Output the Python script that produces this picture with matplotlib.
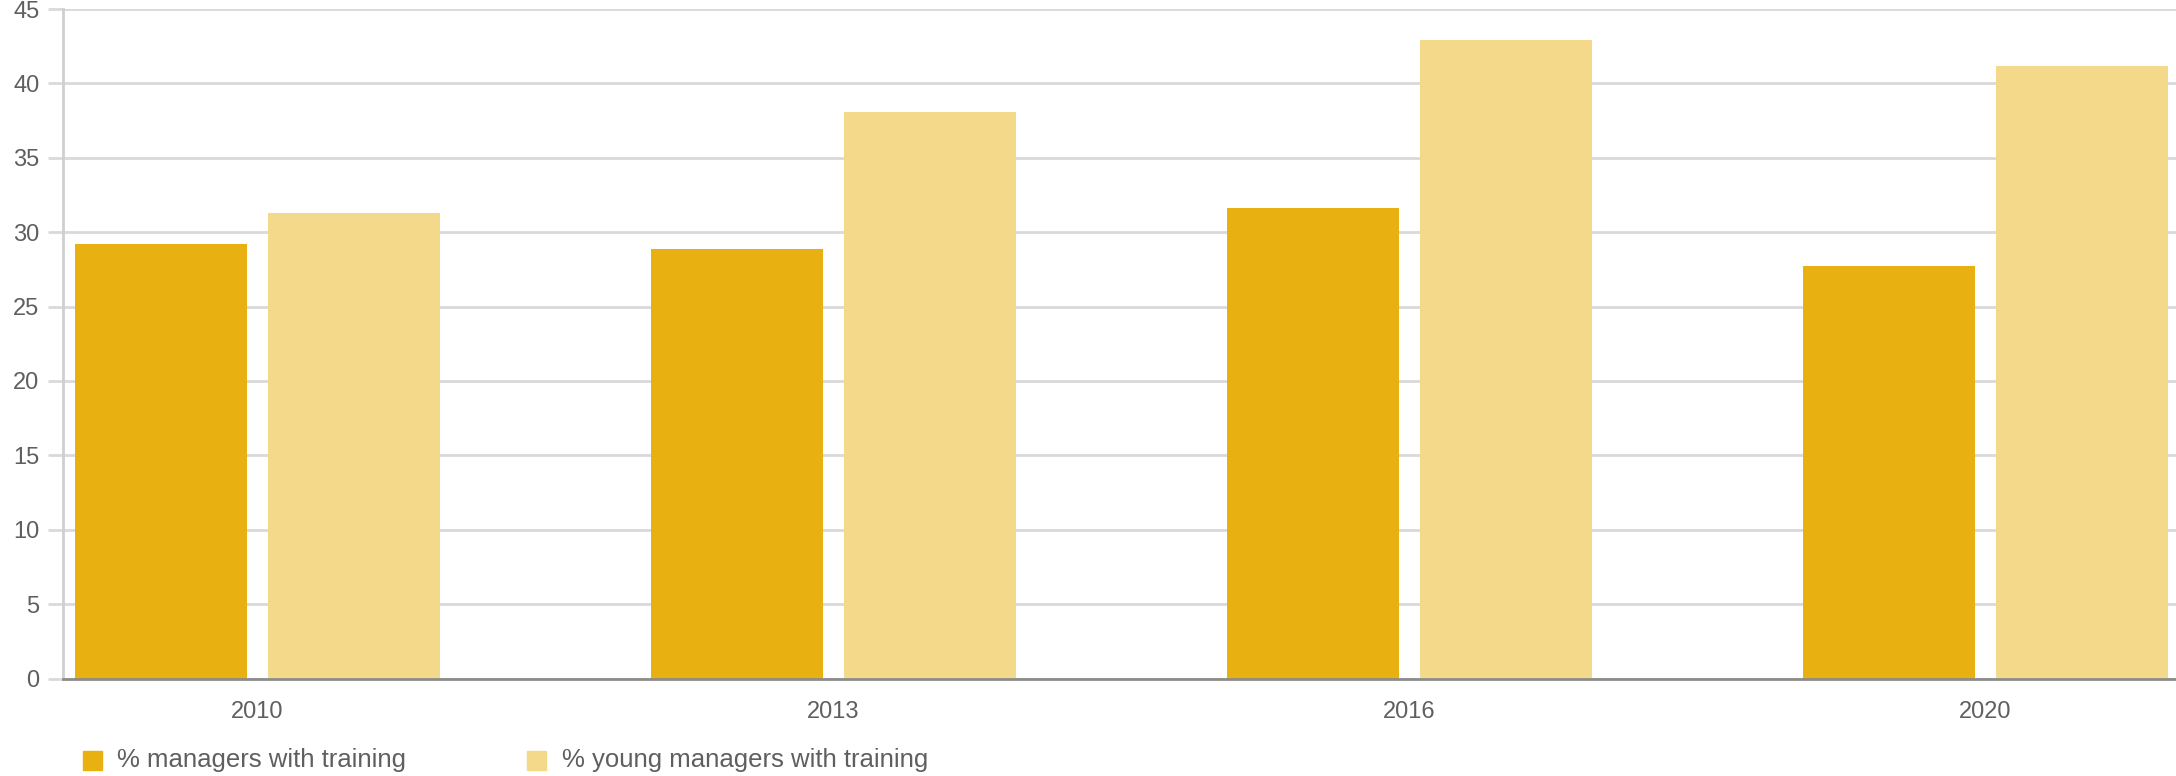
import matplotlib
matplotlib.use("Agg")
import matplotlib.pyplot as plt
from matplotlib.patches import Rectangle
import numpy as np

plt.rcParams["font.family"] = ["Liberation Sans", "DejaVu Sans"]

years = ["2010", "2013", "2016", "2020"]
series_names = ["% managers with training", "% young managers with training"]
managers = [29.2, 28.9, 31.6, 27.7]
young_managers = [31.3, 38.1, 42.9, 41.2]
y_ticks = [0, 5, 10, 15, 20, 25, 30, 35, 40, 45]

dark = "#E8B010"
light = "#F5D98B"
grid_c = "#D9D9D9"
text_c = "#5F5F5F"

W, H = 2176, 776
fig = plt.figure(figsize=(W / 100, H / 100), dpi=100)
ax = fig.add_axes([63 / W, (H - 678.5) / H, 1 - 63 / W, (678.5 - 9) / H])

x = np.arange(len(years))
width = 0.2986
offset = 0.1675
ax.bar(x - offset, managers, width, color=dark, zorder=3)
ax.bar(x + offset, young_managers, width, color=light, zorder=3)

ax.set_xlim(-0.3377, 3.331)
ax.set_ylim(0, 45)
ax.set_yticks(y_ticks)
ax.set_yticklabels([str(t) for t in y_ticks])
ax.set_xticks(x)
ax.set_xticklabels(years)

ax.grid(axis="y", color=grid_c, linewidth=2, zorder=0)
ax.tick_params(axis="y", length=11, width=2, color=grid_c, pad=6,
               labelsize=17, labelcolor=text_c)
ax.tick_params(axis="x", length=0, pad=16, labelsize=17, labelcolor=text_c)

for side in ("top", "right"):
    ax.spines[side].set_visible(False)
ax.spines["left"].set_color("#CFCFCF")
ax.spines["left"].set_linewidth(2)
ax.spines["bottom"].set_color("#8C8C8C")
ax.spines["bottom"].set_linewidth(2)
ax.spines["bottom"].set_zorder(4)

# legend row below the axis
legend_items = [(83, 117, dark, series_names[0]), (527, 562, light, series_names[1])]
for sx, tx, col, label in legend_items:
    fig.patches.append(Rectangle((sx / W, (H - 770) / H), 19 / W, 19 / H,
                                 transform=fig.transFigure, color=col))
    fig.text(tx / W, (H - 760) / H, label, fontsize=18.5, color=text_c,
             va="center", ha="left")

fig.savefig("out.png", dpi=100, facecolor="white")
